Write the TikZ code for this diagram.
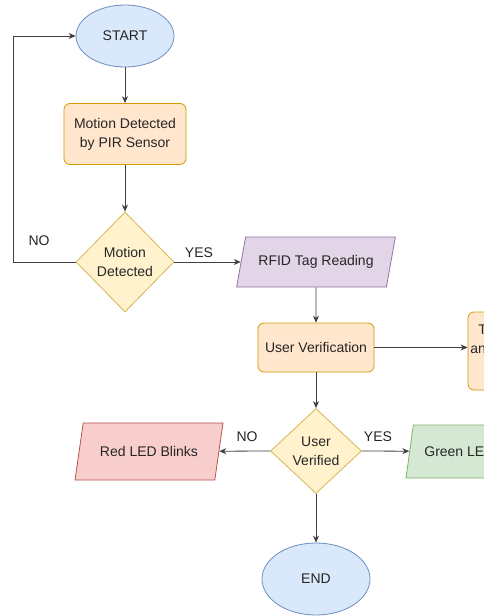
\documentclass[tikz,border=0pt]{standalone}
\usepackage{fontspec}
\setmainfont{Liberation Sans}
\usetikzlibrary{shapes.geometric,arrows.meta}
\definecolor{blueF}{HTML}{DAE8FC}\definecolor{blueD}{HTML}{6C8EBF}
\definecolor{orgF}{HTML}{FFE6CC}\definecolor{orgD}{HTML}{D79B00}
\definecolor{yelF}{HTML}{FFF2CC}\definecolor{yelD}{HTML}{D6B656}
\definecolor{purF}{HTML}{E1D5E7}\definecolor{purD}{HTML}{9673A6}
\definecolor{redF}{HTML}{F8CECC}\definecolor{redD}{HTML}{B85450}
\definecolor{grnF}{HTML}{D5E8D4}\definecolor{grnD}{HTML}{82B366}
\tikzset{
  base/.style={font=\fontsize{14}{19}\selectfont, align=center, inner sep=2pt, line width=0.8pt, text=black!85},
  term/.style={base, ellipse, draw=blueD, fill=blueF},
  proc/.style={base, rectangle, rounded corners=6pt, draw=orgD, fill=orgF},
  decis/.style={base, diamond, draw=yelD, fill=yelF, inner sep=0pt},
  io/.style={base, trapezium, trapezium left angle=66, trapezium right angle=114, trapezium stretches=true},
  conn/.style={draw=black!75, line width=0.8pt, -{Stealth[length=7pt,width=6pt]}},
  lbl/.style={font=\fontsize{14}{17}\selectfont, text=black!85, inner sep=0pt}
}
\begin{document}
\begin{tikzpicture}[x=1pt,y=-1pt]
\useasboundingbox (0,0) rectangle (484,616);
\clip (0,0) rectangle (484,616);
\fill[white] (0,0) rectangle (484,616);
\node[term, minimum width=98pt, minimum height=62pt] (start) at (125,36) {START};
\node[proc, minimum width=122pt, minimum height=61pt] (motion) at (125,134) {Motion Detected\\by PIR Sensor};
\node[decis, minimum width=98pt, minimum height=100pt] (d1) at (125,262) {Motion\\Detected};
\node[io, draw=purD, fill=purF, minimum width=159pt, minimum height=50pt] (rfid) at (316,262) {RFID Tag Reading};
\node[proc, minimum width=116pt, minimum height=49pt] (uv) at (316,347.5) {User Verification};
\node[proc, minimum width=116pt, minimum height=78pt] (log) at (526,351) {Time Recorded\\and Door Opened\\\strut};
\node[decis, minimum width=91pt, minimum height=85pt] (d2) at (316,451) {User\\Verified};
\node[io, draw=redD, fill=redF, minimum width=148pt, minimum height=57pt] (red) at (149,451.5) {Red LED Blinks};
\node[io, draw=grnD, fill=grnF, minimum width=148pt, minimum height=53pt] (green) at (480,451.5) {Green LED Blinks};
\node[term, minimum width=108pt, minimum height=72pt] (end) at (316,579) {END};
\coordinate (c1) at (13,262);
\draw[conn] (start) -- (motion);
\draw[conn] (motion) -- (d1);
\draw[conn] (d1.west) -- (c1) |- (start.west);
\node[lbl] (no1) at (39,241) {NO};
\draw[conn] (d1.east) -- (rfid);
\node[lbl] (yes1) at (199,253) {YES};
\draw[conn] (rfid) -- (uv);
\draw[conn] (uv.east) -- (uv.east -| log.west);
\draw[conn] (uv) -- (d2);
\draw[conn] (d2.west) -- (red);
\node[lbl] (no2) at (247,437) {NO};
\draw[conn] (d2.east) -- (green);
\node[lbl] (yes2) at (378,437) {YES};
\draw[conn] (d2) -- (end);
\end{tikzpicture}
\end{document}
